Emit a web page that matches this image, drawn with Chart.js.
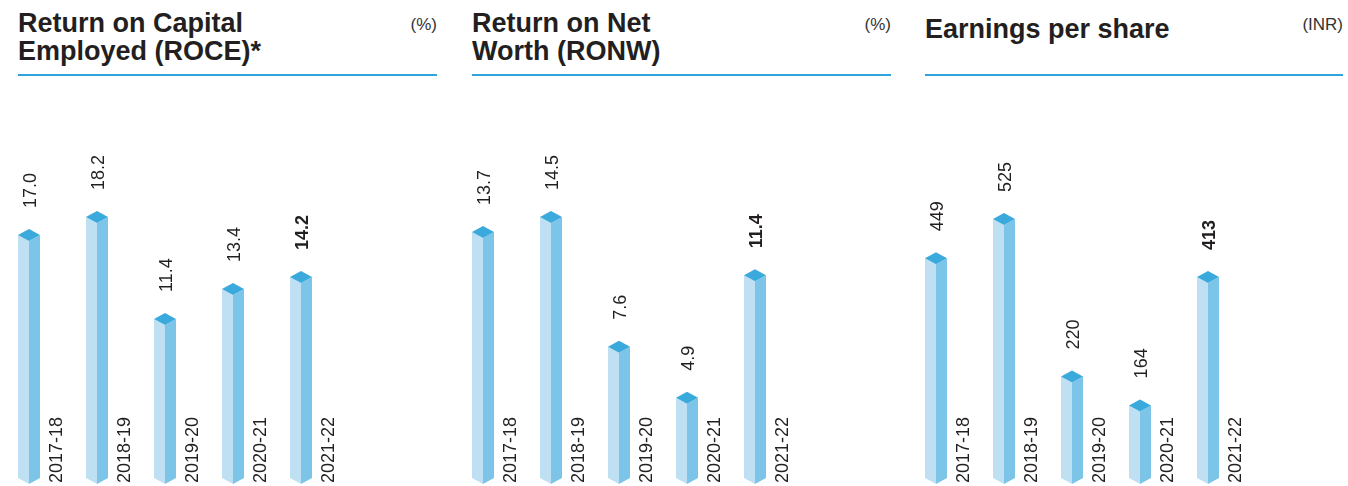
<!DOCTYPE html>
<html>
<head>
<meta charset="utf-8">
<script src="https://cdn.jsdelivr.net/npm/chart.js@4/dist/chart.umd.min.js"></script>
<style>
  html, body { margin: 0; padding: 0; background: #fff; }
  body { width: 1348px; height: 486px; position: relative; overflow: hidden;
         font-family: "Liberation Sans", Arial, sans-serif; color: #231f20; }
  .panel { position: absolute; top: 0; width: 419px; height: 486px; }
  .title { position: absolute; left: 0; font-weight: bold; font-size: 27px; line-height: 28px; }
  .unit { position: absolute; right: 0; top: 15px; font-size: 17px; color: #333; }
  .rule { position: absolute; left: 0; right: 0; top: 74px; height: 1.5px; background: #2ea3dc; }
  .plot { position: absolute; left: 0; top: 90px; width: 419px; height: 396px; }
</style>
</head>
<body>
<div class="panel" id="p1" style="left:18px">
  <div class="title" style="top:9px">Return on Capital<br>Employed (ROCE)*</div>
  <div class="unit">(%)</div>
  <div class="rule"></div>
  <div class="plot"><canvas id="roce"></canvas></div>
</div>
<div class="panel" id="p2" style="left:472px">
  <div class="title" style="top:9px">Return on Net<br>Worth (RONW)</div>
  <div class="unit">(%)</div>
  <div class="rule"></div>
  <div class="plot"><canvas id="ronw"></canvas></div>
</div>
<div class="panel" id="p3" style="left:925px;width:418px">
  <div class="title" style="top:15px">Earnings per share</div>
  <div class="unit">(INR)</div>
  <div class="rule"></div>
  <div class="plot"><canvas id="eps"></canvas></div>
</div>
<script>
const years = ['2017-18', '2018-19', '2019-20', '2020-21', '2021-22'];
const roce = [17.0, 18.2, 11.4, 13.4, 14.2];
const ronw = [13.7, 14.5, 7.6, 4.9, 11.4];
const eps = [449, 525, 220, 164, 413];

// prism bars + rotated labels
const prism = {
  id: 'prism',
  afterDatasetsDraw(chart, args, opts) {
    const ctx = chart.ctx;
    const meta = chart.getDatasetMeta(0);
    const vals = chart.data.datasets[0].data;
    meta.data.forEach((el, i) => {
      const c = el.x, top = el.y, base = el.base;
      const w = el.width / 2, h = 6;
      const L = c - w, R = c + w;
      ctx.save();
      // left face
      ctx.fillStyle = '#bfe0f2';
      ctx.beginPath();
      ctx.moveTo(L, top + h); ctx.lineTo(c, top + 2 * h);
      ctx.lineTo(c, base); ctx.lineTo(L, base - h);
      ctx.closePath(); ctx.fill();
      // right face
      ctx.fillStyle = '#7cc5e9';
      ctx.beginPath();
      ctx.moveTo(R, top + h); ctx.lineTo(c, top + 2 * h);
      ctx.lineTo(c, base); ctx.lineTo(R, base - h);
      ctx.closePath(); ctx.fill();
      // top cap
      ctx.fillStyle = '#3aa9dc';
      ctx.beginPath();
      ctx.moveTo(c, top); ctx.lineTo(R, top + h);
      ctx.lineTo(c, top + 2 * h); ctx.lineTo(L, top + h);
      ctx.closePath(); ctx.fill();

      ctx.fillStyle = '#231f20';
      ctx.textAlign = 'left';
      ctx.textBaseline = 'alphabetic';
      // value label
      const last = i === vals.length - 1;
      ctx.save();
      ctx.translate(c + 6.5, top - 21);
      ctx.rotate(-Math.PI / 2);
      ctx.font = (last ? 'bold ' : '') + '18px "Liberation Sans", Arial, sans-serif';
      ctx.fillText(opts.fmt(vals[i]), 0, 0);
      ctx.restore();
      // category label
      ctx.save();
      ctx.translate(c + 33, base - 1);
      ctx.rotate(-Math.PI / 2);
      ctx.font = '18px "Liberation Sans", Arial, sans-serif';
      ctx.fillText(chart.data.labels[i], 0, 0);
      ctx.restore();
      ctx.restore();
    });
  }
};

function makeChart(id, values, ymax, fmt) {
  new Chart(document.getElementById(id), {
    type: 'bar',
    data: {
      labels: years,
      datasets: [{ data: values, backgroundColor: 'rgba(0,0,0,0)', barThickness: 22 }]
    },
    options: {
      responsive: true,
      maintainAspectRatio: false,
      animation: false,
      layout: { padding: { left: 11, right: 136, top: 0, bottom: 2 } },
      scales: {
        x: { display: false, offset: false },
        y: { display: false, min: 0, max: ymax }
      },
      plugins: {
        legend: { display: false },
        tooltip: { enabled: false },
        prism: { fmt: fmt }
      }
    },
    plugins: [prism]
  });
}

makeChart('roce', roce, 26.27, v => v.toFixed(1));
makeChart('ronw', ronw, 20.92, v => v.toFixed(1));
makeChart('eps', eps, 763.6, v => String(v));
</script>
</body>
</html>
